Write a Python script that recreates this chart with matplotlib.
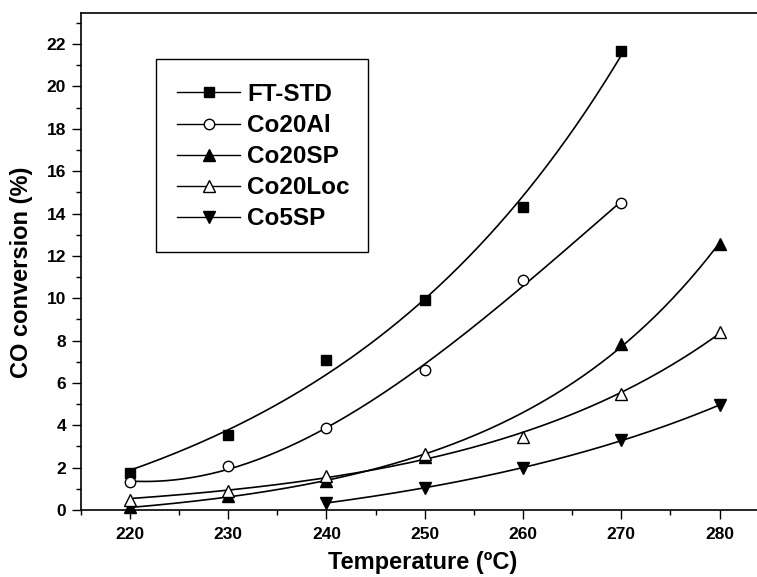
import numpy as np
import matplotlib
matplotlib.use("Agg")
import matplotlib.pyplot as plt
from matplotlib.lines import Line2D
from matplotlib.patches import Rectangle

# ---- data ----
temps_ft = [220, 230, 240, 250, 260, 270]
ft_std = [1.75, 3.55, 7.1, 9.91, 14.32, 21.69]

temps_al = [220, 230, 240, 250, 260, 270]
co20al = [1.3, 2.1, 3.85, 6.6, 10.88, 14.48]

temps_sp = [220, 230, 240, 250, 270, 280]
co20sp = [0.16, 0.66, 1.37, 2.5, 7.85, 12.56]

temps_loc = [220, 230, 240, 250, 260, 270, 280]
co20loc = [0.45, 0.9, 1.62, 2.65, 3.45, 5.5, 8.39]

temps_5sp = [240, 250, 260, 270, 280]
co5sp = [0.35, 1.02, 2.0, 3.3, 4.95]

labels = ["FT-STD", "Co20Al", "Co20SP", "Co20Loc", "Co5SP"]
xticks = [220, 230, 240, 250, 260, 270, 280]
yticks = [0, 2, 4, 6, 8, 10, 12, 14, 16, 18, 20, 22]


def exp_fit(xs, ys):
    """Least-squares fit of y = a*exp(b*(x-x0)) + c (grid search over b)."""
    x0 = xs.min()
    best = None
    for b in np.linspace(0.001, 0.2, 800):
        e = np.exp(b * (xs - x0))
        A = np.vstack([e, np.ones_like(e)]).T
        sol, *_ = np.linalg.lstsq(A, ys, rcond=None)
        sse = np.sum((A @ sol - ys) ** 2)
        if best is None or sse < best[0]:
            best = (sse, b, sol)
    _, b, (a, c) = best
    return lambda x: a * np.exp(b * (x - x0)) + c


def poly_fit(xs, ys, deg=3):
    coef = np.polyfit(xs, ys, deg)
    return lambda x: np.polyval(coef, x)


plt.rcParams['font.family'] = ['Liberation Sans', 'DejaVu Sans']
plt.rcParams['font.weight'] = 'bold'

W, H = 757, 577
fig = plt.figure(figsize=(W / 100, H / 100), dpi=100)
ax = fig.add_axes([80.7 / W, (H - 510) / H, 688 / W, 497 / H])

series = [
    (temps_ft, ft_std, 's', 'black', 7.0, exp_fit),
    (temps_al, co20al, 'o', 'white', 7.5, poly_fit),
    (temps_sp, co20sp, '^', 'black', 8.5, exp_fit),
    (temps_loc, co20loc, '^', 'white', 8.5, exp_fit),
    (temps_5sp, co5sp, 'v', 'black', 8.5, exp_fit),
]

handles = []
for (xs, ys, mk, fc, ms, fitter), lab in zip(series, labels):
    xs = np.array(xs, float)
    ys = np.array(ys, float)
    f = fitter(xs, ys)
    xx = np.linspace(xs.min(), xs.max(), 200)
    ax.plot(xx, f(xx), color='black', lw=1.2, zorder=2)
    ax.plot(xs, ys, linestyle='none', marker=mk, ms=ms, mfc=fc, mec='black',
            mew=1.0, zorder=3, clip_on=False)
    handles.append(Line2D([], [], color='black', lw=1.0, marker=mk, ms=ms,
                          mfc=fc, mec='black', mew=1.0))

ax.set_xlim(215, 285)
ax.set_ylim(0, 23.47)
ax.set_xticks(xticks)
ax.set_xticks(np.arange(215, 285, 5), minor=True)
ax.set_yticks(yticks)
ax.set_yticks(np.arange(1, 24, 2), minor=True)
ax.tick_params(axis='both', which='major', direction='out', length=6.5,
               width=1.0, labelsize=12.5, pad=4)
ax.tick_params(axis='both', which='minor', direction='out', length=3.5,
               width=1.0)
ax.tick_params(axis='x', which='major', pad=6)
for lab in ax.get_xticklabels() + ax.get_yticklabels():
    lab.set_fontweight('bold')
for sp in ax.spines.values():
    sp.set_linewidth(1.2)
ax.spines['right'].set_visible(False)

fig.text(22 / W, 1 - 272 / H, "CO conversion (%)", rotation=90,
         ha='center', va='center', fontsize=17, fontweight='bold')
fig.text((328 + 518) / 2 / W, 1 - 562 / H, "Temperature (\u00baC)",
         ha='center', va='center', fontsize=17, fontweight='bold')

# legend frame
fig.patches.append(Rectangle((156 / W, 1 - 252 / H), (368 - 156) / W,
                             (252 - 59) / H, transform=fig.transFigure,
                             fill=False, edgecolor='black', lw=1.0))
leg = fig.legend(handles=handles, labels=labels, loc='upper left',
                 bbox_to_anchor=(177 / W, 1 - 83 / H), frameon=False,
                 fontsize=17.5, handlelength=2.6, handletextpad=0.3,
                 labelspacing=0.33, borderpad=0.0, borderaxespad=0.0)
for t in leg.get_texts():
    t.set_fontweight('bold')

fig.savefig("out.png", dpi=100)
